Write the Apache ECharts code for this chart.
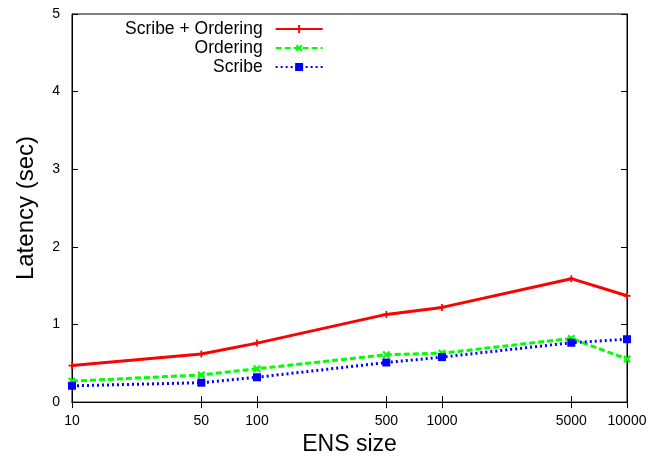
<!DOCTYPE html>
<html><head><meta charset="utf-8">
<script src="https://cdn.jsdelivr.net/npm/echarts@6/dist/echarts.min.js"></script>
<style>html,body{margin:0;padding:0;background:#fff}#c{width:651px;height:461px}</style>
</head><body><div id="c"></div>
<script>
const ensSizes = [10, 50, 100, 500, 1000, 5000, 10000];
const scribeOrdering = [0.47, 0.62, 0.76, 1.13, 1.22, 1.59, 1.37];
const ordering = [0.27, 0.35, 0.43, 0.61, 0.63, 0.82, 0.555];
const scribe = [0.21, 0.25, 0.32, 0.51, 0.58, 0.765, 0.81];
const xTicks = [10, 50, 100, 500, 1000, 5000, 10000];
const yTicks = [0, 1, 2, 3, 4, 5];

const font = 'Liberation Sans, Arial, sans-serif';
const pairs = arr => ensSizes.map((x, i) => [x, arr[i]]);
const plusPath = 'path://M3,0H5V3H8V5H5V8H3V5H0V3H3Z';

const chart = echarts.init(document.getElementById('c'), null, {renderer: 'canvas'});
const xBase = {
  type: 'log', logBase: 10, min: 10, max: 10000,
  axisLine: {show: true, lineStyle: {color: '#000', width: 1}},
  splitLine: {show: false}, minorTick: {show: false}
};
chart.setOption({
  animation: false,
  grid: {left: 72, right: 24, top: 14, bottom: 57, show: true, borderColor: '#000', borderWidth: 1},
  legend: {
    orient: 'vertical', align: 'right', left: 120, top: 15,
    itemWidth: 47, itemHeight: 10, itemGap: 1,
    textStyle: {fontFamily: font, fontSize: 17.5, color: '#000', lineHeight: 17, padding: [0, 8, 0, 0]},
    data: ['Scribe + Ordering', 'Ordering', 'Scribe']
  },
  xAxis: [
    Object.assign({}, xBase, {
      position: 'bottom',
      name: 'ENS size', nameLocation: 'middle', nameGap: 26,
      nameTextStyle: {fontFamily: font, fontSize: 23, color: '#000'},
      axisTick: {show: true, inside: true, length: 6, customValues: xTicks, lineStyle: {color: '#000'}},
      axisLabel: {customValues: xTicks, formatter: v => String(Math.round(v)), fontFamily: font, fontSize: 14, color: '#000', margin: 12, showMinLabel: true, showMaxLabel: true}
    }),
    Object.assign({}, xBase, {
      position: 'top',
      axisTick: {show: true, inside: true, length: 6, customValues: xTicks, lineStyle: {color: '#000'}},
      axisLabel: {show: false}
    })
  ],
  yAxis: [
    {
      type: 'value', min: 0, max: 5, interval: 1, position: 'left',
      name: 'Latency (sec)', nameLocation: 'middle', nameGap: 34,
      nameTextStyle: {fontFamily: font, fontSize: 24, color: '#000'},
      axisLine: {show: true, lineStyle: {color: '#000'}},
      axisTick: {show: true, inside: true, length: 6, lineStyle: {color: '#000'}},
      axisLabel: {fontFamily: font, fontSize: 14, color: '#000', margin: 12},
      splitLine: {show: false}
    },
    {
      type: 'value', min: 0, max: 5, interval: 1, position: 'right',
      axisLine: {show: true, lineStyle: {color: '#000'}},
      axisTick: {show: true, inside: true, length: 6, lineStyle: {color: '#000'}},
      axisLabel: {show: false}, splitLine: {show: false}
    }
  ],
  series: [
    {name: 'Scribe + Ordering', type: 'line', data: pairs(scribeOrdering),
     symbol: plusPath, symbolSize: 7, color: '#ff0000',
     lineStyle: {width: 3, color: '#ff0000', type: 'solid'}, itemStyle: {color: '#ff0000'}},
    {name: 'Ordering', type: 'line', data: pairs(ordering),
     symbol: plusPath, symbolSize: 9, symbolRotate: 45, color: '#00ff00',
     lineStyle: {width: 3, color: '#00ff00', type: [6, 3]}, itemStyle: {color: '#00ff00'}},
    {name: 'Scribe', type: 'line', data: pairs(scribe),
     symbol: 'rect', symbolSize: 8, color: '#0000ff',
     lineStyle: {width: 3, color: '#0000ff', type: [2, 3]}, itemStyle: {color: '#0000ff'}}
  ]
});
</script></body></html>
